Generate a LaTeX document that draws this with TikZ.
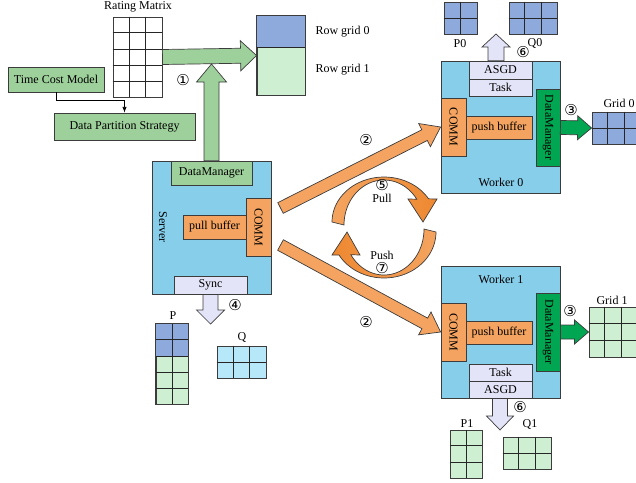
\documentclass[tikz,border=0pt]{standalone}
\usepackage{fontspec}
\setmainfont{Liberation Serif}
\newfontfamily\circfont{DejaVu Sans}
\usetikzlibrary{arrows.meta,calc}

\definecolor{edgegray}{RGB}{60,60,60}
\definecolor{boxgreen}{RGB}{157,208,154}
\definecolor{dmgreen}{RGB}{0,166,81}
\definecolor{nodeblue}{RGB}{135,206,235}
\definecolor{commorange}{RGB}{244,164,96}
\definecolor{deeporange}{RGB}{238,136,48}
\definecolor{taskgray}{RGB}{228,228,248}
\definecolor{cellblue}{RGB}{142,169,219}
\definecolor{cellgreen}{RGB}{206,239,210}
\definecolor{cellcyan}{RGB}{183,232,250}

% block arrow: [style]{from}{to}{shaft half}{head half}{head length}
\newcommand\blockarrow[6][]{%
  \coordinate (bh) at ($(#3)!#6!(#2)$);
  \draw[#1] ($(#2)!#4!90:(#3)$) -- ($(bh)!#4!90:(#3)$) -- ($(bh)!#5!90:(#3)$) -- (#3)
    -- ($(bh)!#5!-90:(#3)$) -- ($(bh)!#4!-90:(#3)$) -- ($(#2)!#4!-90:(#3)$) -- cycle;}

% inner lines of a cell grid: {node}{cols}{rows}
\newcommand\cellgrid[3]{%
  \pgfmathtruncatemacro\gridcols{#2-1}%
  \pgfmathtruncatemacro\gridrows{#3-1}%
  \foreach \i in {1,...,\gridcols}
    \draw[cellline] ($(#1.north west)!{\i/#2}!(#1.north east)$) -- ($(#1.south west)!{\i/#2}!(#1.south east)$);
  \foreach \j in {1,...,\gridrows}
    \draw[cellline] ($(#1.north west)!{\j/#3}!(#1.south west)$) -- ($(#1.north east)!{\j/#3}!(#1.south east)$);}

\newcommand\stepno[1]{{\circfont\fontsize{15}{15}\selectfont #1}}

\begin{document}
\begin{tikzpicture}[x=1pt,y=-1pt,font=\fontsize{12}{13}\selectfont,
    box/.style={draw=edgegray, line width=0.8pt, inner sep=0pt},
    cellbox/.style={draw=edgegray, line width=0.9pt, inner sep=0pt},
    cellline/.style={draw=black!85, line width=0.8pt},
    arrowedge/.style={draw=edgegray, line width=0.7pt, line join=miter}]
\useasboundingbox (0,0) rectangle (636,482);

% inputs
\node (lrating) at (138,7) {Rating Matrix};
\node[cellbox, fill=white, minimum width=49pt, minimum height=80pt] (rating) at (137.5,57) {};
\cellgrid{rating}{3}{5}
\node[box, fill=boxgreen, minimum width=96pt, minimum height=25pt] (tcm) at (56,79.5) {Time Cost Model};
\node[box, fill=boxgreen, minimum width=141pt, minimum height=27pt] (dps) at (124.5,126.5) {Data Partition Strategy};
\draw[-{Latex[length=2mm]}, line width=0.7pt] (tcm.south) -- ++(0,8) -| (dps.north);

\node[cellbox, fill=cellgreen, minimum width=48pt, minimum height=79pt] (rowgrid) at (281,55.5) {};
\fill[cellblue] (rowgrid.north west) rectangle ($(rowgrid.north east)!0.4!(rowgrid.south east)$);
\draw[cellline] ($(rowgrid.north west)!0.4!(rowgrid.south west)$) -- ($(rowgrid.north east)!0.4!(rowgrid.south east)$);
\draw[cellbox] (rowgrid.south west) rectangle (rowgrid.north east);
\node[anchor=west] (lrow0) at (312,32) {Row grid 0};
\node[anchor=west] (lrow1) at (312,70) {Row grid 1};

% server
\node[box, fill=nodeblue, minimum width=119pt, minimum height=133pt] (server) at (211.5,227.5) {};
\node[rotate=-90] (lserver) at (163,227) {Server};
\node[box, fill=boxgreen, minimum width=81pt, minimum height=24pt] (srvdm) at (211.5,173) {DataManager};
\node[box, fill=commorange, minimum width=25pt, minimum height=58pt] (srvcomm) at (258.5,227) {};
\node[rotate=-90] at (srvcomm) {COMM};
\node[box, fill=commorange, minimum width=63pt, minimum height=24pt] (pullbuf) at (214.5,227) {pull buffer};
\node[box, fill=taskgray, minimum width=73pt, minimum height=18pt] (sync) at (210.5,285) {Sync};

% worker 0
\node[box, fill=nodeblue, minimum width=119pt, minimum height=132pt] (worker0) at (500.5,127) {};
\node (lworker0) at (501,182) {Worker 0};
\node[box, fill=taskgray, minimum width=63pt, minimum height=18pt] (asgd0) at (500.5,70) {ASGD};
\node[box, fill=taskgray, minimum width=63pt, minimum height=17pt] (task0) at (500.5,87.5) {Task};
\node[box, fill=commorange, minimum width=25pt, minimum height=58pt] (comm0) at (453.5,127) {};
\node[rotate=-90] at (comm0) {COMM};
\node[box, fill=commorange, minimum width=66pt, minimum height=23pt] (pushbuf0) at (499,127.5) {push buffer};
\node[box, fill=dmgreen, minimum width=24pt, minimum height=77pt] (dm0) at (548,127.5) {};
\node[rotate=-90] at (dm0) {DataManager};

% worker 1
\node[box, fill=nodeblue, minimum width=119pt, minimum height=132pt] (worker1) at (500.5,332) {};
\node (lworker1) at (501,279) {Worker 1};
\node[box, fill=commorange, minimum width=25pt, minimum height=58pt] (comm1) at (453.5,332) {};
\node[rotate=-90] at (comm1) {COMM};
\node[box, fill=commorange, minimum width=66pt, minimum height=23pt] (pushbuf1) at (499,332.5) {push buffer};
\node[box, fill=dmgreen, minimum width=24pt, minimum height=78pt] (dm1) at (548,332) {};
\node[rotate=-90] at (dm1) {DataManager};
\node[box, fill=taskgray, minimum width=63pt, minimum height=17pt] (task1) at (500.5,372.5) {Task};
\node[box, fill=taskgray, minimum width=63pt, minimum height=17pt] (asgd1) at (500.5,389.5) {ASGD};

% grids
\node[cellbox, fill=cellblue, minimum width=33pt, minimum height=32pt] (p0) at (460.5,18) {};
\cellgrid{p0}{2}{2}
\node[cellbox, fill=cellblue, minimum width=48pt, minimum height=32pt] (q0) at (533,18) {};
\cellgrid{q0}{3}{2}
\node[cellbox, fill=cellblue, minimum width=48pt, minimum height=32pt] (grid0) at (616,128) {};
\cellgrid{grid0}{3}{2}
\node[cellbox, fill=cellgreen, minimum width=32pt, minimum height=80pt] (pfull) at (172,364) {};
\fill[cellblue] (pfull.north west) rectangle ($(pfull.north east)!0.4!(pfull.south east)$);
\cellgrid{pfull}{2}{5}
\draw[cellbox] (pfull.south west) rectangle (pfull.north east);
\node[cellbox, fill=cellcyan, minimum width=49pt, minimum height=32pt] (qfull) at (241.5,362) {};
\cellgrid{qfull}{3}{2}
\node[cellbox, fill=cellgreen, minimum width=32pt, minimum height=48pt] (p1) at (466,454) {};
\cellgrid{p1}{2}{3}
\node[cellbox, fill=cellgreen, minimum width=48pt, minimum height=32pt] (q1) at (527,453) {};
\cellgrid{q1}{3}{2}
\node[cellbox, fill=cellgreen, minimum width=48pt, minimum height=50pt] (grid1) at (613,332) {};
\cellgrid{grid1}{3}{3}

\node (lp0) at (460,44) {P0};
\node (lq0) at (535,43) {Q0};
\node (lgrid0) at (619,103) {Grid 0};
\node (lp) at (173,316) {P};
\node (lq) at (242,337) {Q};
\node (lp1) at (467,424) {P1};
\node (lq1) at (530,424) {Q1};
\node (lgrid1) at (612,300) {Grid 1};

% block arrows
\coordinate (join) at (211.5,64);
\coordinate (sdown) at (210.5,324);
\coordinate (up0) at (496,34);
\coordinate (dn1) at (500,430);
\coordinate (out0) at (280.5,208);
\coordinate (out1) at (280.5,245);
\blockarrow[arrowedge, fill=boxgreen]{rating.east}{rowgrid.west}{7.5pt}{15pt}{16pt}
\blockarrow[arrowedge, fill=boxgreen]{srvdm.north}{join}{7.5pt}{15pt}{18pt}
\blockarrow[arrowedge, fill=taskgray]{sync.south}{sdown}{7.5pt}{14pt}{14pt}
\blockarrow[arrowedge, fill=taskgray]{asgd0.north -| up0}{up0}{8pt}{14pt}{13pt}
\blockarrow[arrowedge, fill=taskgray]{asgd1.south -| dn1}{dn1}{7.5pt}{13.5pt}{14pt}
\blockarrow[arrowedge, fill=dmgreen]{dm0.east}{grid0.west}{7pt}{12pt}{14pt}
\blockarrow[arrowedge, fill=dmgreen]{dm1.east}{grid1.west}{7pt}{12pt}{14pt}
\blockarrow[arrowedge, fill=commorange]{out0}{comm0.west}{6pt}{13pt}{18pt}
\blockarrow[arrowedge, fill=commorange]{out1}{comm1.west}{6pt}{13pt}{18pt}

% pull / push rings
\draw[arrowedge, left color=commorange, right color=deeporange]
  plot[domain=180:329, samples=40] ({384+52*cos(\x)},{222+45*sin(\x)})
  -- (437,199) -- (423,222) -- (408,199)
  -- plot[domain=325:180, samples=40] ({384+40*cos(\x)},{225+45*sin(\x)}) -- cycle;
\draw[arrowedge, left color=deeporange, right color=commorange]
  plot[domain=0:150, samples=40] ({384+52*cos(\x)},{232+46*sin(\x)})
  -- (332,255) -- (347,232) -- (360,255)
  -- plot[domain=146:0, samples=40] ({384+40*cos(\x)},{229+46*sin(\x)}) -- cycle;
\node (lpull) at (382,198) {Pull};
\node (lpush) at (382,255) {Push};

% step numbers
\node (s1) at (183,80) {\stepno{①}};
\node (s2a) at (366,140) {\stepno{②}};
\node (s2b) at (366,322) {\stepno{②}};
\node (s3a) at (571,110) {\stepno{③}};
\node (s3b) at (570,311) {\stepno{③}};
\node (s4) at (235,305) {\stepno{④}};
\node (s5) at (382,185) {\stepno{⑤}};
\node (s6a) at (523,52) {\stepno{⑥}};
\node (s6b) at (520,407) {\stepno{⑥}};
\node (s7) at (382,268) {\stepno{⑦}};
\end{tikzpicture}
\end{document}
